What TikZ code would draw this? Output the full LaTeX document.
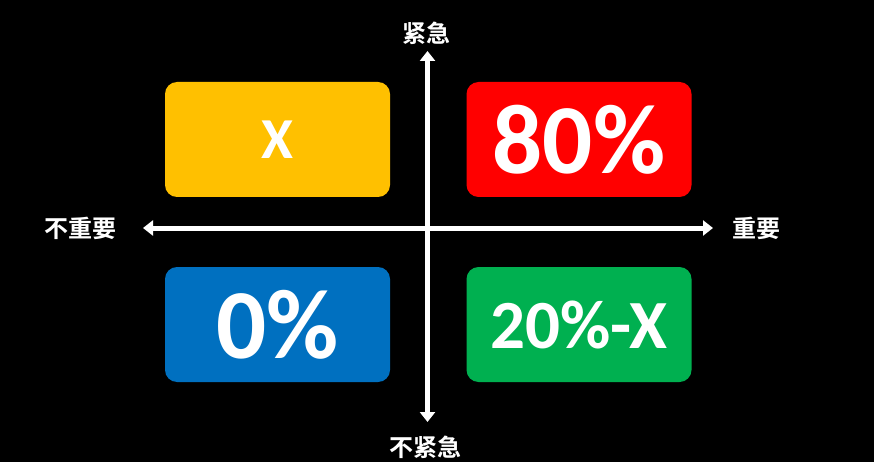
\documentclass[tikz,border=0pt]{standalone}
\usepackage{fontspec}
\setmainfont{Carlito}
\newfontfamily\cjk{Noto Sans CJK SC}[BoldFont={Noto Sans CJK SC Bold}]
\usetikzlibrary{arrows.meta}
\definecolor{qyellow}{HTML}{FFC000}
\definecolor{qred}{HTML}{FF0000}
\definecolor{qblue}{HTML}{0070C0}
\definecolor{qgreen}{HTML}{00B050}
\tikzset{
  quad/.style={rounded corners=12pt, minimum width=225pt, minimum height=115pt, inner sep=0pt, text=white, font=\bfseries},
  axislabel/.style={text=white, font=\cjk\bfseries\fontsize{24pt}{26pt}\selectfont, inner sep=0pt},
  axis/.style={draw=white, line width=5pt, {Triangle[width=15pt,length=10pt]}-{Triangle[width=15pt,length=10pt]}}
}
\begin{document}
\begin{tikzpicture}[x=1pt,y=-1pt]
\fill[black] (0,0) rectangle (874,462);
\useasboundingbox (0,0) rectangle (874,462);
\node[quad, fill=qyellow, font=\bfseries\fontsize{58pt}{60pt}\selectfont] (nx) at (277.5,139.5) {X};
\node[quad, fill=qred, font=\bfseries\fontsize{99pt}{100pt}\selectfont] (n80) at (579,139.5) {80\%};
\node[quad, fill=qblue, font=\bfseries\fontsize{99pt}{100pt}\selectfont] (n0) at (277.5,324.5) {0\%};
\node[quad, fill=qgreen, font=\bfseries\fontsize{69pt}{70pt}\selectfont] (n20) at (579,324.5) {20\%-X};
\node[axislabel] (up) at (426,33) {紧急};
\node[axislabel] (down) at (425,447) {不紧急};
\node[axislabel] (left) at (80,228) {不重要};
\node[axislabel] (right) at (756,228) {重要};
\coordinate (ttop) at (427.5,51);
\coordinate (tbot) at (427.5,422);
\coordinate (tleft) at (143,228);
\coordinate (tright) at (713,228);
\draw[axis] (ttop) -- (tbot);
\draw[axis] (tleft) -- (tright);
\end{tikzpicture}
\end{document}
